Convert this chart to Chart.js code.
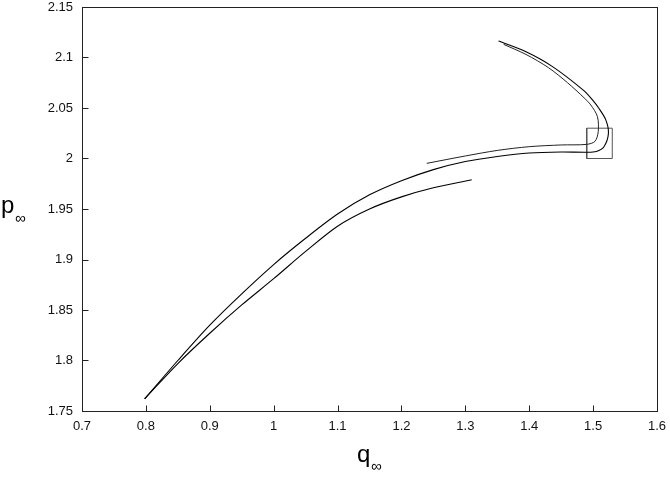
<!DOCTYPE html>
<html>
<head>
<meta charset="utf-8">
<script src="https://cdn.jsdelivr.net/npm/chart.js@4"></script>
<style>
  body { margin: 0; background: #fff; }
  canvas { display: block; }
</style>
</head>
<body>
<canvas id="chart" width="670" height="485"></canvas>
<script>
// tick values on the two axes
var xTicks = [0.7, 0.8, 0.9, 1.0, 1.1, 1.2, 1.3, 1.4, 1.5, 1.6];
var yTicks = [1.75, 1.8, 1.85, 1.9, 1.95, 2.0, 2.05, 2.1, 2.15];

// lower branch, ends near q = 1.31
var lowerQ = [0.798, 0.85, 0.9, 0.95, 1.0, 1.05, 1.1, 1.15, 1.2, 1.25, 1.31];
var lowerP = [1.762, 1.797, 1.827, 1.855, 1.881, 1.908, 1.933, 1.950, 1.962, 1.971, 1.979];

// main branch, folds back inside the box and runs up to the top
var mainQ = [0.798, 0.85, 0.9, 0.95, 1.0, 1.05, 1.1, 1.15, 1.2, 1.25, 1.3, 1.35, 1.4, 1.45, 1.49, 1.505, 1.517, 1.524, 1.52, 1.509, 1.499, 1.486, 1.4365, 1.395, 1.352];
var mainP = [1.762, 1.800, 1.835, 1.866, 1.895, 1.921, 1.945, 1.964, 1.978, 1.989, 1.997, 2.002, 2.0055, 2.0065, 2.0062, 2.007, 2.0117, 2.025, 2.038, 2.0497, 2.058, 2.067, 2.091, 2.1057, 2.1163];

// short upper strand starting near q = 1.24
var upperQ = [1.2396, 1.3, 1.35, 1.4, 1.45, 1.49, 1.503, 1.508, 1.5068, 1.4964, 1.486, 1.46, 1.43, 1.395, 1.36];
var upperP = [1.9952, 2.0025, 2.008, 2.0117, 2.0134, 2.014, 2.017, 2.0265, 2.0414, 2.053, 2.06, 2.075, 2.09, 2.103, 2.113];

// zoom box
var boxQ = [1.49, 1.53, 1.53, 1.49, 1.49];
var boxP = [2.0, 2.0, 2.03, 2.03, 2.0];

function toPoints(qs, ps) {
    return qs.map(function (q, i) { return { x: q, y: ps[i] }; });
}

var font = "'Liberation Sans', Arial, Helvetica, sans-serif";

// frame, inward ticks and the subscripted axis titles
var framePlugin = {
    id: 'frame',
    afterDraw: function (chart) {
        var c = chart.ctx, a = chart.chartArea;
        var xs = chart.scales.x, ys = chart.scales.y;
        c.save();
        c.strokeStyle = '#222';
        c.lineWidth = 1;
        var L = Math.round(a.left) + 0.5, R = Math.round(a.right) + 0.5;
        var T = Math.round(a.top) + 0.5, B = Math.round(a.bottom) + 0.5;
        c.strokeRect(L, T, R - L, B - T);
        c.beginPath();
        xTicks.forEach(function (v) {
            var px = Math.round(xs.getPixelForValue(v)) + 0.5;
            c.moveTo(px, B); c.lineTo(px, B - 6);
        });
        yTicks.forEach(function (v) {
            var py = Math.round(ys.getPixelForValue(v)) + 0.5;
            c.moveTo(L, py); c.lineTo(L + 6, py);
        });
        c.stroke();

        c.fillStyle = '#000';
        c.textBaseline = 'alphabetic';
        c.textAlign = 'left';
        c.font = '24px ' + font;
        c.fillText('p', 1, 213);
        c.fillText('q', 357, 462);
        c.font = '15px ' + font;
        c.fillText('\u221E', 15, 223);
        c.fillText('\u221E', 371, 471);
        c.restore();
    }
};

function fmt(v) { return String(Number(v.toFixed(2))); }

var ctx = document.getElementById('chart').getContext('2d');
var chart = new Chart(ctx, {
    type: 'scatter',
    data: {
        datasets: [
            { data: toPoints(lowerQ, lowerP), borderColor: '#000', borderWidth: 1.1, tension: 0.3 },
            { data: toPoints(mainQ, mainP), borderColor: '#000', borderWidth: 1.1, tension: 0.3 },
            { data: toPoints(upperQ, upperP), borderColor: '#222', borderWidth: 1, tension: 0.3 },
            { data: toPoints(boxQ, boxP), borderColor: '#555', borderWidth: 1, tension: 0 }
        ]
    },
    options: {
        responsive: false,
        animation: false,
        showLine: true,
        elements: { point: { radius: 0, hoverRadius: 0 } },
        layout: { padding: { top: 7, right: 13, left: 0, bottom: 0 } },
        plugins: { legend: { display: false }, tooltip: { enabled: false } },
        scales: {
            x: {
                type: 'linear',
                min: 0.7, max: 1.6,
                afterBuildTicks: function (s) { s.ticks = xTicks.map(function (v) { return { value: v }; }); },
                afterFit: function (s) { s.height = 74; s.paddingLeft = 0; s.paddingRight = 0; },
                grid: { display: false, drawTicks: false },
                border: { display: false },
                ticks: { color: '#111', padding: 8, maxRotation: 0, font: { family: font, size: 13 }, callback: fmt }
            },
            y: {
                type: 'linear',
                min: 1.75, max: 2.15,
                afterBuildTicks: function (s) { s.ticks = yTicks.map(function (v) { return { value: v }; }); },
                afterFit: function (s) { s.width = 82; s.paddingTop = 0; s.paddingBottom = 0; },
                grid: { display: false, drawTicks: false },
                border: { display: false },
                ticks: { color: '#111', padding: 9, font: { family: font, size: 13 }, callback: fmt }
            }
        }
    },
    plugins: [framePlugin]
});
</script>
</body>
</html>
